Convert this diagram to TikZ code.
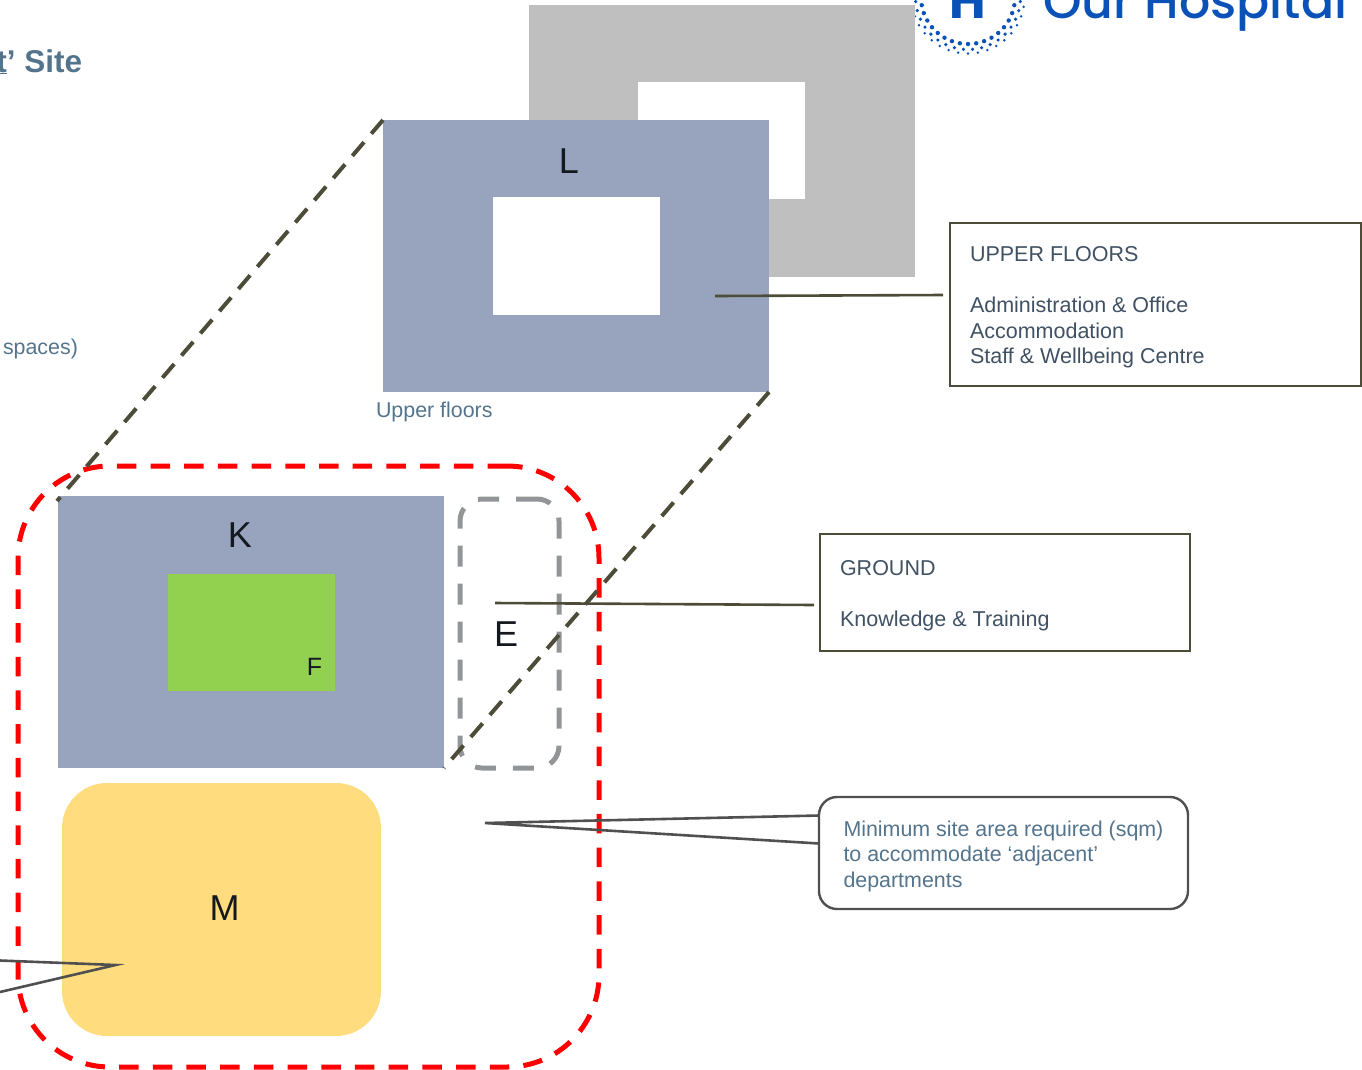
\documentclass[tikz,border=0pt]{standalone}
\usepackage{fontspec}
\setmainfont{Liberation Sans}
\newfontfamily\logofont{Poppins Medium}
\newfontfamily\logobold{Poppins}
\definecolor{slabgray}{HTML}{BFBFBF}
\definecolor{slabblue}{HTML}{98A4BE}
\definecolor{courtgreen}{HTML}{92D14F}
\definecolor{siteyellow}{HTML}{FFDC7E}
\definecolor{olive}{HTML}{4C4C38}
\definecolor{slate}{HTML}{54748C}
\definecolor{boxtext}{HTML}{3F5163}
\definecolor{ink}{HTML}{14181F}
\definecolor{leader}{HTML}{505050}
\definecolor{dashgray}{HTML}{929597}
\definecolor{logoblue}{HTML}{0B52B8}
\tikzset{
  every node/.append style={outer sep=0pt},
  slab/.style={rectangle,draw=none,fill=#1,inner sep=0pt,anchor=north west},
  letter/.style={inner sep=0pt,text=ink,font=\fontsize{#1}{#1}\selectfont,anchor=base},
  info/.style={rectangle,draw=olive,line width=2.6pt,inner sep=0pt,anchor=north west,align=left,
     text=boxtext,font=\fontsize{21.5}{25.6}\selectfont},
  note/.style={inner sep=0pt,text=slate,font=\fontsize{21.4}{25.5}\selectfont,anchor=base west,align=left},
  reddash/.style={draw=red,line width=5pt,dash pattern=on 19.5pt off 14.2pt},
  graydash/.style={draw=dashgray,line width=5pt,dash pattern=on 21pt off 17pt},
  olivedash/.style={draw=olive,line width=4pt,dash pattern=on 18pt off 11.2pt},
  leadline/.style={draw=olive,line width=2.6pt},
  pointer/.style={draw=leader,line width=2.6pt},
}
\begin{document}
\begin{tikzpicture}[x=1pt,y=-1pt]
\useasboundingbox (0,0) rectangle (1362,1069);
\clip (0,0) rectangle (1362,1069);
% header
\node[inner sep=0pt,anchor=base west,text=slate,font=\bfseries\fontsize{31.5}{31.5}\selectfont] (title) at (-3.5,72) {\underline{t}’ Site};
\node[note] (spaces) at (3,354) {spaces)};
% logo
\foreach \a in {-10,0,...,190}{
  \fill[logoblue] ({968+47*cos(\a)},{-3+47*sin(\a)}) circle (2.2pt);
  \fill[logoblue] ({968+52.5*cos(\a+5)},{-3+52.5*sin(\a+5)}) circle (1.8pt);
  \fill[logoblue] ({968+56.5*cos(\a)},{-3+56.5*sin(\a)}) circle (1.4pt);
}
\node[inner sep=0pt,anchor=base,text=logoblue,font=\logobold\bfseries\fontsize{50}{50}\selectfont] (logoh) at (967.5,18) {H};
\node[inner sep=0pt,anchor=base west,text=logoblue,font=\logofont\fontsize{49}{49}\selectfont] (logotext) at (1043,18) {Our Hospital};
% upper floors
\node[slab=slabgray,minimum width=386pt,minimum height=272pt] (back) at (529,5) {};
\node[slab=white,minimum width=167pt,minimum height=117pt] (backhole) at (638,82) {};
\node[slab=slabblue,minimum width=386pt,minimum height=272pt] (upper) at (383,120) {};
\node[slab=white,minimum width=167pt,minimum height=118pt] (upperhole) at (493,197) {};
\node[letter=36] (lL) at (569,173) {L};
\node[note] (upcap) at (376,417) {Upper floors};
% ground
\node[slab=slabblue,minimum width=386pt,minimum height=272pt] (ground) at (58,496) {};
\node[slab=courtgreen,minimum width=167pt,minimum height=117pt] (court) at (168,574) {};
\node[letter=36] (lK) at (240,547) {K};
\node[letter=25] (lF) at (314.5,675) {F};
\node[slab=siteyellow,rounded corners=45pt,minimum width=319pt,minimum height=253pt] (yard) at (62,783) {};
\node[letter=36] (lM) at (224.5,920) {M};
\node[letter=36] (lE) at (506,646) {E};
% outlines
\node[rectangle,graydash,rounded corners=22pt,inner sep=0pt,minimum width=99pt,minimum height=269pt,anchor=north west] (edept) at (460,499) {};
\node[rectangle,reddash,rounded corners=92pt,inner sep=0pt,minimum width=581pt,minimum height=601pt,anchor=north west] (sitebound) at (18,466) {};
% projection lines
\coordinate (gtop) at (57,501);
\draw[olivedash] (upper.north west) -- (gtop);
\draw[olivedash] (upper.south east) -- (ground.south east);
% info boxes
\node[info,minimum width=411pt,minimum height=163pt] (upbox) at (950,223) {\parbox{371pt}{\vspace*{5.5pt}UPPER FLOORS\\[25.6pt]Administration \& Office\\Accommodation\\Staff \& Wellbeing Centre}};
\node[info,minimum width=370pt,minimum height=117pt] (gbox) at (820,534) {\parbox{330pt}{\vspace*{6.5pt}GROUND\\[25.6pt]Knowledge \& Training}};
\node[rectangle,draw=leader,line width=2.4pt,rounded corners=18pt,fill=white,inner sep=0pt,minimum width=369pt,minimum height=112pt,anchor=north west] (callout) at (819,797) {};
\node[note] (calltext) at (843.5,887) {Minimum site area required (sqm)\\to accommodate ‘adjacent’\\departments};
% leaders
\coordinate (uplead0) at (715,296);
\coordinate (uplead1) at (943,295);
\coordinate (glead0) at (495,603);
\coordinate (glead1) at (814,605);
\coordinate (tip) at (485,823);
\coordinate (tipa) at (819,815.5);
\coordinate (tipb) at (819,843.5);
\coordinate (ltip) at (115.5,965);
\coordinate (lefta) at (0,960.5);
\coordinate (leftb) at (0,992);
\draw[leadline] (uplead0) -- (uplead1);
\draw[leadline] (glead0) -- (glead1);
\draw[pointer] (tipa) -- (tip) -- (tipb);
\draw[pointer] (lefta) -- (ltip) -- (leftb);
\end{tikzpicture}
\end{document}
